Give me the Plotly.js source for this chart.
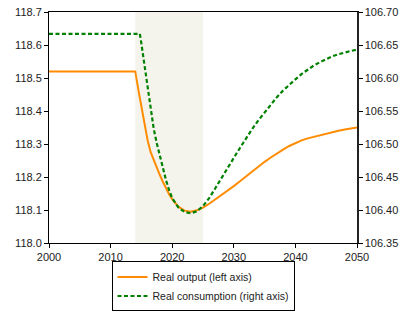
<!DOCTYPE html>
<html>
<head>
<meta charset="utf-8">
<script src="https://cdn.plot.ly/plotly-3.0.1.min.js"></script>
<style>html,body{margin:0;padding:0;background:#fff;}#chart{width:403px;height:314px;}</style>
</head>
<body>
<div id="chart"></div>
<script>
// Real output (left axis)
const outputYears = [2000,2001,2002,2003,2004,2005,2006,2007,2008,2009,2010,2011,2012,2013,2014,
  2014.5,2015,2015.5,2016,2016.5,2017,2017.5,2018,2018.5,2019,2019.5,2020,
  2021,2022,2023,2024,2025,2026,2027,2028,2029,2030,2031,2032,2033,2034,2035,2036,2037,2038,2039,2040,
  2041,2042,2043,2044,2045,2046,2047,2048,2049,2050];
const outputValues = [118.52,118.52,118.52,118.52,118.52,118.52,118.52,118.52,118.52,118.52,118.52,118.52,118.52,118.52,118.52,
  118.465,118.41,118.358,118.312,118.275,118.25,118.228,118.206,118.185,118.165,118.148,118.133,
  118.110,118.098,118.095,118.099,118.107,118.119,118.132,118.145,118.158,118.1725,118.187,118.202,118.217,118.232,118.246,118.259,118.272,118.283,118.294,118.303,
  118.311,118.317,118.322,118.327,118.332,118.336,118.340,118.344,118.347,118.350];

// Real consumption (right axis)
const consYears = [2000,2001,2002,2003,2004,2005,2006,2007,2008,2009,2010,2011,2012,2013,2014,2014.75,
  2015,2015.5,2016,2016.5,2017,2017.5,2018,2018.5,2019,2019.5,2020,
  2021,2022,2023,2024,2025,2026,2027,2028,2029,2030,2031,2032,2033,2034,2035,2036,2037,2038,2039,2040,
  2041,2042,2043,2044,2045,2046,2047,2048,2049,2050];
const consValues = [106.667,106.667,106.667,106.667,106.667,106.667,106.667,106.667,106.667,106.667,106.667,106.667,106.667,106.667,106.667,106.667,
  106.652,106.620,106.584,106.550,106.523,106.501,106.482,106.463,106.445,106.430,106.418,
  106.404,106.397,106.395,106.398,106.406,106.418,106.433,106.449,106.464,106.479,106.494,106.509,106.523,106.536,106.548,106.560,106.571,106.581,106.590,106.598,
  106.606,106.613,106.619,106.624,106.629,106.633,106.636,106.639,106.641,106.643];

const shadeStart = 2014, shadeEnd = 2025;
const xTicks = [2000,2010,2020,2030,2040,2050];
const leftTicks = [118.0,118.1,118.2,118.3,118.4,118.5,118.6,118.7];
const rightTicks = [106.35,106.40,106.45,106.50,106.55,106.60,106.65,106.70];

const traces = [
  {x: outputYears, y: outputValues, type: 'scatter', mode: 'lines', name: 'Real output (left axis)',
   line: {color: '#ff8c00', width: 2}, yaxis: 'y'},
  {x: consYears, y: consValues, type: 'scatter', mode: 'lines', name: 'Real consumption (right axis)',
   line: {color: '#008000', width: 2.2, dash: '4px,2.5px'}, yaxis: 'y2'}
];

const axisCommon = {showgrid: false, zeroline: false, showline: true, linecolor: '#000', linewidth: 1,
  ticks: 'outside', ticklen: 4, tickwidth: 1, tickcolor: '#000',
  tickfont: {family: 'Liberation Sans, Arial, sans-serif', size: 11, color: '#222'}};

const layout = {
  width: 403, height: 314,
  margin: {l: 49, r: 46, t: 12, b: 71},
  paper_bgcolor: '#fff', plot_bgcolor: '#fff',
  font: {family: 'Liberation Sans, Arial, sans-serif', size: 11, color: '#222'},
  showlegend: true,
  xaxis: Object.assign({}, axisCommon, {range: [2000, 2050], tickvals: xTicks, ticktext: xTicks.map(String), mirror: true}),
  yaxis: Object.assign({}, axisCommon, {range: [118.0, 118.7], tickvals: leftTicks, ticktext: leftTicks.map(v => v.toFixed(1))}),
  yaxis2: Object.assign({}, axisCommon, {range: [106.35, 106.70], overlaying: 'y', side: 'right', linecolor: '#222', linewidth: 1.5,
    tickvals: rightTicks, ticktext: rightTicks.map(v => v.toFixed(2))}),
  shapes: [{type: 'rect', xref: 'x', yref: 'paper', x0: shadeStart, x1: shadeEnd, y0: 0, y1: 1,
    fillcolor: '#f5f4ec', line: {width: 0}, layer: 'below'}],
  legend: {x: 0.5, xanchor: 'center', xref: 'paper', y: 0.008, yanchor: 'bottom', yref: 'container', orientation: 'v',
    bordercolor: '#000', borderwidth: 1, bgcolor: '#fff',
    font: {family: 'Liberation Sans, Arial, sans-serif', size: 10.5, color: '#222'},
    tracegroupgap: 0, itemwidth: 30}
};

Plotly.newPlot('chart', traces, layout, {staticPlot: true, displayModeBar: false});
</script>
</body>
</html>
